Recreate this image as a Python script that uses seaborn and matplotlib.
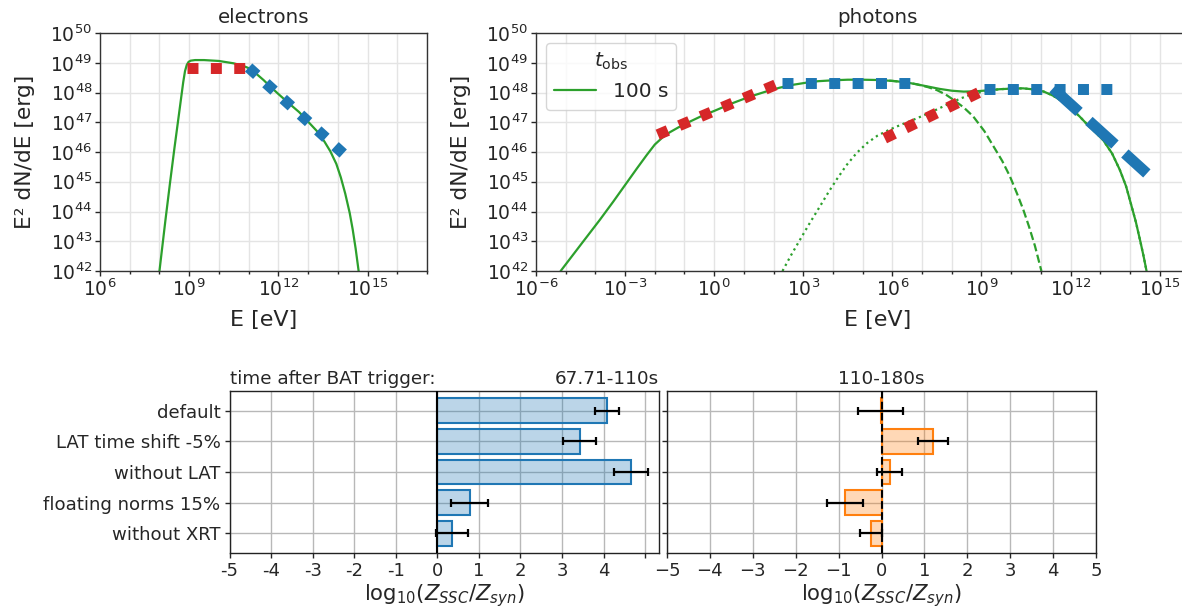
import numpy as np
import pandas as pd
import matplotlib
matplotlib.use("Agg")
import matplotlib.pyplot as plt
import seaborn as sns
from matplotlib.ticker import FixedLocator, FuncFormatter, NullFormatter, NullLocator
from matplotlib.colors import to_rgba
from matplotlib.lines import Line2D

# ---------------------------------------------------------------- data
# Electron spectrum at t_obs = 100 s (log10 E [eV], log10 E^2 dN/dE [erg])
el_logE = [8.0, 8.2, 8.36, 8.5, 8.62, 8.72, 8.8, 8.86, 8.92, 8.98, 9.05, 9.2,
           9.5, 10.0, 10.5, 10.8, 11.0, 11.2, 11.5, 11.75, 12.0, 12.35, 12.7,
           13.0, 13.3, 13.55, 13.75, 13.95, 14.1, 14.25, 14.4, 14.5, 14.6, 14.7]
el_logY = [42.0, 43.7, 45.0, 46.1, 47.0, 47.75, 48.35, 48.72, 48.93, 49.03,
           49.07, 49.09, 49.09, 49.06, 48.98, 48.9, 48.82, 48.68, 48.42, 48.18,
           47.95, 47.64, 47.34, 47.02, 46.7, 46.35, 46.02, 45.6, 45.15, 44.6,
           43.95, 43.4, 42.75, 42.0]

# Electron parameter ranges (start/end points)
el_red_logE = [8.94, 11.0]
el_red_logY = [48.83, 48.83]
el_blue_logE = [11.0, 14.3]
el_blue_logY = [48.84, 45.84]

# Photon spectrum: total
ph_logE = [-5.17, -4.45, -3.85, -3.4, -2.95, -2.6, -2.27, -2.0, -1.75, -1.5,
           -1.2, -0.8, -0.4, 0.0, 0.64, 1.2, 1.77, 2.2, 2.66, 3.1, 3.5, 4.0,
           4.5, 5.0, 5.5, 6.0, 6.4, 6.8, 7.2, 7.6, 8.0, 8.4, 8.8, 9.2, 9.6,
           10.0, 10.4, 10.8, 11.1, 11.4, 11.7, 12.0, 12.3, 12.54, 12.8, 13.1,
           13.4, 13.66, 13.87, 14.05, 14.2, 14.35, 14.46, 14.56]
ph_logY = [42.0, 42.94, 43.72, 44.33, 44.96, 45.45, 45.9, 46.25, 46.48, 46.66,
           46.83, 47.03, 47.22, 47.38, 47.65, 47.86, 48.04, 48.16, 48.26, 48.33,
           48.38, 48.41, 48.43, 48.43, 48.42, 48.39, 48.35, 48.28, 48.2, 48.12,
           48.06, 48.03, 48.04, 48.07, 48.11, 48.13, 48.14, 48.1, 48.03, 47.9,
           47.72, 47.48, 47.2, 46.95, 46.7, 46.4, 45.95, 45.4, 44.85, 44.2,
           43.65, 43.0, 42.5, 42.0]

# Synchrotron component (high-energy part, below it equals the total)
syn_logE = [5.5, 6.0, 6.4, 6.8, 7.2, 7.5, 7.8, 8.05, 8.4, 8.72, 9.1, 9.4, 9.7,
            9.96, 10.2, 10.41, 10.6, 10.8, 11.02]
syn_logY = [48.42, 48.39, 48.35, 48.28, 48.18, 48.08, 47.93, 47.76, 47.5, 47.2,
            46.7, 46.2, 45.7, 45.18, 44.6, 44.06, 43.5, 42.85, 42.0]

# SSC component
ssc_logE = [2.3, 2.6, 2.89, 3.2, 3.56, 3.85, 4.12, 4.45, 4.8, 5.15, 5.5, 5.9,
            6.3, 6.7, 7.1, 7.5, 7.9, 8.3, 8.7, 9.1, 9.6, 10.0, 10.4, 10.8,
            11.1, 11.4, 11.7, 12.0, 12.3, 12.54, 12.8, 13.1, 13.4, 13.66,
            13.87, 14.05, 14.2, 14.35, 14.46, 14.56]
ssc_logY = [42.0, 42.55, 43.05, 43.58, 44.17, 44.65, 45.07, 45.55, 45.97, 46.3,
            46.55, 46.75, 46.92, 47.08, 47.25, 47.43, 47.62, 47.8, 47.95, 48.04,
            48.11, 48.13, 48.14, 48.1, 48.03, 47.9, 47.72, 47.48, 47.2, 46.95,
            46.7, 46.4, 45.95, 45.4, 44.85, 44.2, 43.65, 43.0, 42.5, 42.0]

# Photon parameter ranges (start/end points)
ph_red1_logE = [-1.9, 2.24]
ph_red1_logY = [46.58, 48.33]
ph_blue1_logE = [2.29, 6.75]
ph_blue1_logY = [48.32, 48.32]
ph_red2_logE = [5.74, 9.02]
ph_red2_logY = [46.46, 48.05]
ph_blue2_logE = [9.08, 13.53]
ph_blue2_logY = [48.12, 48.12]
ph_blue3_logE = [11.41, 14.57]
ph_blue3_logY = [48.14, 45.28]

# Model comparison: log10(Z_SSC / Z_syn)
setups = ["default", "LAT time shift -5%", "without LAT",
          "floating norms 15%", "without XRT"]
z_early = [4.08, 3.42, 4.66, 0.78, 0.35]
z_early_err = [0.29, 0.39, 0.41, 0.45, 0.39]
z_late = [-0.02, 1.19, 0.19, -0.85, -0.24]
z_late_err = [0.52, 0.35, 0.29, 0.43, 0.26]

early_ticks = [-5, -4, -3, -2, -1, 0, 1, 2, 3, 4, 5]
early_ticklabels = ["-5", "-4", "-3", "-2", "-1", "0", "1", "2", "3", "4", ""]

# ---------------------------------------------------------------- style
sns.set_theme(style="ticks", rc={
    "xtick.major.size": 3.5, "ytick.major.size": 3.5,
    "xtick.minor.size": 2.0, "ytick.minor.size": 2.0,
    "xtick.major.width": 1.0, "ytick.major.width": 1.0,
    "axes.linewidth": 1.0,
})
plt.rcParams["font.family"] = ["DejaVu Sans"]
plt.rcParams["mathtext.fontset"] = "dejavusans"

GREEN = "#2ca02c"
RED = "#d62728"
BLUE = "#1f77b4"
ORANGE = "#ff7f0e"
DOT_LW = 7.9
DOTS = (0, (1, 1.13))
DASHES = (0, (3.2, 1.22))

W, H = 1182, 612
fig = plt.figure(figsize=(W / 100, H / 100), dpi=100)


def px_axes(left, top, right, bottom):
    return fig.add_axes([left / W, 1 - bottom / H,
                         (right - left) / W, (bottom - top) / H])


def p10(vals):
    return [10.0 ** v for v in vals]


pow_fmt = FuncFormatter(lambda v, _: rf"$10^{{{int(round(np.log10(v)))}}}$")


def setup_sed(ax, xlo, xhi, majors, title):
    ax.set_xscale("log")
    ax.set_yscale("log")
    ax.set_xlim(10.0 ** xlo, 10.0 ** xhi)
    ax.set_ylim(1e42, 1e50)
    ax.xaxis.set_major_locator(FixedLocator(p10(majors)))
    ax.xaxis.set_minor_locator(FixedLocator(p10(range(xlo, xhi + 1))))
    ax.xaxis.set_minor_formatter(NullFormatter())
    ax.yaxis.set_major_locator(FixedLocator(p10(range(42, 51))))
    ax.yaxis.set_minor_locator(NullLocator())
    ax.xaxis.set_major_formatter(pow_fmt)
    ax.yaxis.set_major_formatter(pow_fmt)
    ax.grid(which="both", color="#e4e4e4", lw=1.0)
    ax.set_axisbelow(True)
    ax.tick_params(labelsize=13.5, pad=2)
    ax.set_xlabel("E [eV]", fontsize=16, labelpad=7)
    ax.set_ylabel("E² dN/dE [erg]", fontsize=15.7, labelpad=11)
    ax.set_title(title, fontsize=14.3, pad=7)
    for s in ax.spines.values():
        s.set_color("#333333")


def curve(ax, lx, ly, ls="-"):
    sns.lineplot(x=p10(lx), y=p10(ly), ax=ax, color=GREEN, lw=1.6,
                 linestyle=ls, sort=False, estimator=None, legend=False)


def thick(ax, lx, ly, color, ls):
    sns.lineplot(x=p10(lx), y=p10(ly), ax=ax, color=color, lw=DOT_LW,
                 linestyle=ls, sort=False, estimator=None, legend=False,
                 zorder=3)


# ---------------------------------------------------------------- electrons
ax_e = px_axes(100, 33, 427, 271)
curve(ax_e, el_logE, el_logY)
thick(ax_e, el_red_logE, el_red_logY, RED, DOTS)
thick(ax_e, el_blue_logE, el_blue_logY, BLUE, DOTS)
setup_sed(ax_e, 6, 17, [6, 9, 12, 15], "electrons")

# ---------------------------------------------------------------- photons
ax_p = px_axes(536, 33, 1219, 271)
curve(ax_p, ph_logE, ph_logY)
curve(ax_p, syn_logE, syn_logY, (0, (3.7, 1.6)))
curve(ax_p, ssc_logE, ssc_logY, (0, (1, 1.65)))
thick(ax_p, ph_red1_logE, ph_red1_logY, RED, DOTS)
thick(ax_p, ph_blue1_logE, ph_blue1_logY, BLUE, DOTS)
thick(ax_p, ph_red2_logE, ph_red2_logY, RED, DOTS)
thick(ax_p, ph_blue2_logE, ph_blue2_logY, BLUE, DOTS)
thick(ax_p, ph_blue3_logE, ph_blue3_logY, BLUE, DASHES)
setup_sed(ax_p, -6, 17, [-6, -3, 0, 3, 6, 9, 12, 15], "photons")
ax_p.legend(handles=[Line2D([], [], color=GREEN, lw=1.6, label="100 s")],
            title=r"$t_{\rm obs}$", loc="upper left", fontsize=14.5,
            title_fontsize=14.5, framealpha=0.8, edgecolor="#cccccc",
            handlelength=2.1)

# ---------------------------------------------------------------- model comparison


def comparison(ax, values, errors, color, zero_ls):
    df = pd.DataFrame({"setup": setups, "value": values})
    sns.barplot(data=df, x="value", y="setup", orient="h", color=color,
                saturation=1, width=0.8, errorbar=None, ax=ax, zorder=2)
    for bar in ax.patches:
        bar.set_facecolor(to_rgba(color, 0.3))
        bar.set_edgecolor(color)
        bar.set_linewidth(1.5)
    ax.errorbar(values, np.arange(len(setups)), xerr=errors, fmt="none",
                ecolor="black", elinewidth=1.6, capsize=3.2, capthick=1.6,
                zorder=4)
    ax.axvline(0, color="black", lw=1.5, ls=zero_ls, zorder=3)
    ax.set_ylim(4.63, -0.65)
    ax.grid(True, color="#b8b8b8", lw=1.0)
    ax.set_axisbelow(True)
    ax.set_ylabel("")
    ax.set_xlabel(r"$\mathrm{log}_{10}(Z_{SSC}/Z_{syn})$", fontsize=15.2,
                  labelpad=2)
    ax.tick_params(axis="x", labelsize=13, pad=3)
    ax.tick_params(axis="y", labelsize=13.1, pad=3)
    for s in ax.spines.values():
        s.set_color("#222222")


ax_a = px_axes(229.5, 390.7, 658.5, 552.7)
comparison(ax_a, z_early, z_early_err, BLUE, "-")
ax_a.set_xlim(-5, 5.32)
ax_a.set_xticks(early_ticks)
ax_a.set_xticklabels(early_ticklabels)
ax_a.set_title("time after BAT trigger:", loc="left", fontsize=13.2, pad=5)
ax_a.set_title("67.71-110s", loc="right", fontsize=13.2, pad=5)

ax_b = px_axes(667, 390.7, 1096, 552.7)
comparison(ax_b, z_late, z_late_err, ORANGE, (0, (3.7, 1.6)))
ax_b.set_xlim(-5, 5)
ax_b.set_xticks(range(-5, 6))
ax_b.tick_params(axis="y", labelleft=False)
ax_b.set_title("110-180s", fontsize=13.2, pad=5)

fig.savefig("out.png", dpi=100)
